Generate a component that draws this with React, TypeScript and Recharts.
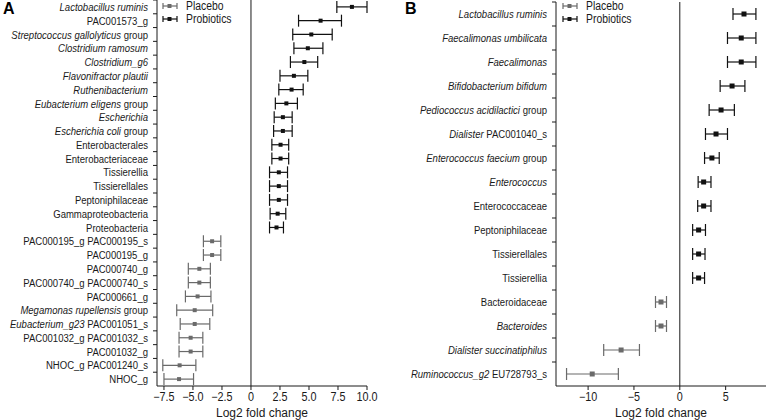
import React from "react";
import {
  ScatterChart,
  Scatter,
  XAxis,
  YAxis,
  ErrorBar,
  ReferenceLine,
  Legend,
} from "recharts";

const FONT = '"Liberation Sans", Arial, sans-serif';
const INK = "#1a1a1a";
const PROBIO = "#111111";
const PLACEBO = "#6a6a6a";
const SQUEEZE = 0.83; // narrow look of the original lettering

// Panel A
const namesA = [
  "Lactobacillus ruminis",
  "PAC001573_g",
  "Streptococcus gallolyticus group",
  "Clostridium ramosum",
  "Clostridium_g6",
  "Flavonifractor plautii",
  "Ruthenibacterium",
  "Eubacterium eligens group",
  "Escherichia",
  "Escherichia coli group",
  "Enterobacterales",
  "Enterobacteriaceae",
  "Tissierellia",
  "Tissierellales",
  "Peptoniphilaceae",
  "Gammaproteobacteria",
  "Proteobacteria",
  "PAC000195_g PAC000195_s",
  "PAC000195_g",
  "PAC000740_g",
  "PAC000740_g PAC000740_s",
  "PAC000661_g",
  "Megamonas rupellensis group",
  "Eubacterium_g23 PAC001051_s",
  "PAC001032_g PAC001032_s",
  "PAC001032_g",
  "NHOC_g PAC001240_s",
  "NHOC_g",
];
// italic part at the start of each label
const italicA = [
  "Lactobacillus ruminis",
  "",
  "Streptococcus gallolyticus",
  "Clostridium ramosum",
  "Clostridium_g6",
  "Flavonifractor plautii",
  "Ruthenibacterium",
  "Eubacterium eligens",
  "Escherichia",
  "Escherichia coli",
  "", "", "", "", "", "", "", "", "", "", "", "",
  "Megamonas rupellensis",
  "Eubacterium_g23",
  "", "", "", "",
];
const groupA = [
  "pro", "pro", "pro", "pro", "pro", "pro", "pro", "pro", "pro", "pro",
  "pro", "pro", "pro", "pro", "pro", "pro", "pro",
  "pla", "pla", "pla", "pla", "pla", "pla", "pla", "pla", "pla", "pla", "pla",
];
const meanA = [8.7, 6.0, 5.2, 4.9, 4.6, 3.7, 3.5, 3.05, 2.75, 2.75, 2.55, 2.55, 2.4, 2.4, 2.4, 2.3, 2.2,
  -3.35, -3.35, -4.45, -4.45, -4.6, -4.85, -4.85, -5.2, -5.2, -6.15, -6.2];
const lowA = [7.4, 4.1, 3.6, 3.7, 3.4, 2.5, 2.4, 2.1, 2.0, 1.95, 1.8, 1.8, 1.6, 1.6, 1.6, 1.65, 1.6,
  -4.1, -4.1, -5.4, -5.4, -5.65, -6.4, -6.1, -6.2, -6.2, -7.6, -7.5];
const highA = [10.0, 7.8, 7.0, 6.2, 5.75, 4.9, 4.5, 4.0, 3.55, 3.55, 3.25, 3.25, 3.15, 3.15, 3.15, 3.0, 2.8,
  -2.6, -2.6, -3.5, -3.5, -3.45, -3.3, -3.55, -4.15, -4.15, -4.75, -4.95];
const ticksA = [-7.5, -5, -2.5, 0, 2.5, 5, 7.5, 10];

// Panel B
const namesB = [
  "Lactobacillus ruminis",
  "Faecalimonas umbilicata",
  "Faecalimonas",
  "Bifidobacterium bifidum",
  "Pediococcus acidilactici group",
  "Dialister PAC001040_s",
  "Enterococcus faecium group",
  "Enterococcus",
  "Enterococcaceae",
  "Peptoniphilaceae",
  "Tissierellales",
  "Tissierellia",
  "Bacteroidaceae",
  "Bacteroides",
  "Dialister succinatiphilus",
  "Ruminococcus_g2 EU728793_s",
];
const italicB = [
  "Lactobacillus ruminis",
  "Faecalimonas umbilicata",
  "Faecalimonas",
  "Bifidobacterium bifidum",
  "Pediococcus acidilactici",
  "Dialister",
  "Enterococcus faecium",
  "Enterococcus",
  "", "", "", "", "",
  "Bacteroides",
  "Dialister succinatiphilus",
  "Ruminococcus_g2",
];
const groupB = [
  "pro", "pro", "pro", "pro", "pro", "pro", "pro", "pro", "pro", "pro", "pro", "pro",
  "pla", "pla", "pla", "pla",
];
const meanB = [7.0, 6.7, 6.7, 5.7, 4.5, 3.95, 3.5, 2.6, 2.6, 2.05, 2.05, 2.05, -2.05, -2.05, -6.4, -9.55];
const lowB = [5.8, 5.2, 5.2, 4.4, 3.2, 2.8, 2.7, 2.0, 1.95, 1.4, 1.4, 1.4, -2.65, -2.65, -8.3, -12.35];
const highB = [8.3, 8.3, 8.3, 7.1, 5.95, 5.2, 4.3, 3.4, 3.4, 2.8, 2.75, 2.7, -1.45, -1.45, -4.4, -6.7];
const ticksB = [-10, -5, 0, 5];

const legendItems = [
  { label: "Placebo", color: PLACEBO },
  { label: "Probiotics", color: PROBIO },
];

function buildRows(names: string[], groups: string[], mean: number[], low: number[], high: number[]) {
  return names.map((name, i) => {
    const err: [number, number] = [mean[i] - low[i], high[i] - mean[i]];
    return {
      name,
      value: mean[i],
      group: groups[i],
      errPro: groups[i] === "pro" ? err : undefined,
      errPla: groups[i] === "pla" ? err : undefined,
    };
  });
}

const minus = (v: number, digits: number) =>
  v === 0 ? "0" : v.toFixed(digits).replace("-", "\u2212");

function makeYTick(names: string[], italics: string[], pitch: number) {
  return (props: any) => {
    const { x, y, payload } = props;
    const name = String(payload.value);
    const idx = names.indexOf(name);
    const it = idx >= 0 ? italics[idx] : "";
    const rest = name.slice(it.length);
    const axisX = x + 9;
    const top = y - pitch / 2;
    return (
      <g>
        <line x1={axisX - 4} x2={axisX} y1={top} y2={top} stroke={INK} strokeWidth={1} />
        <text
          transform={`translate(${x},${y}) scale(${SQUEEZE},1)`}
          dy="0.36em"
          textAnchor="end"
          fontSize={11.5}
          fontFamily={FONT}
          fill={INK}
        >
          {it && <tspan fontStyle="italic">{it}</tspan>}
          {rest && <tspan style={{ whiteSpace: "pre" }}>{rest}</tspan>}
        </text>
      </g>
    );
  };
}

function makeXTick(digits: number) {
  return (props: any) => {
    const { x, y, payload } = props;
    return (
      <text
        transform={`translate(${x},${y}) scale(0.9,1)`}
        dy="0.75em"
        textAnchor="middle"
        fontSize={12}
        fontFamily={FONT}
        fill={INK}
      >
        {minus(Number(payload.value), digits)}
      </text>
    );
  };
}

function LegendBox() {
  return (
    <div style={{ fontFamily: FONT, fontSize: 12.5, color: INK, lineHeight: "12.5px" }}>
      {legendItems.map((it) => (
        <div key={it.label} style={{ display: "flex", alignItems: "center", whiteSpace: "nowrap" }}>
          <svg width={18} height={10} style={{ marginRight: 6 }}>
            <line x1={1} x2={15} y1={5} y2={5} stroke={it.color} strokeWidth={1.2} />
            <line x1={1} x2={1} y1={2} y2={8} stroke={it.color} strokeWidth={1.2} />
            <line x1={15} x2={15} y1={2} y2={8} stroke={it.color} strokeWidth={1.2} />
            <rect x={5.5} y={3} width={4} height={4} fill={it.color} />
          </svg>
          <span style={{ display: "inline-block", transform: `scaleX(${SQUEEZE})`, transformOrigin: "left center" }}>
            {it.label}
          </span>
        </div>
      ))}
    </div>
  );
}

const square = (size: number) => (props: any) => {
  const { cx, cy, payload } = props;
  if (cx == null || cy == null) return <g />;
  const color = payload && payload.group === "pla" ? PLACEBO : PROBIO;
  return <rect x={cx - size / 2} y={cy - size / 2} width={size} height={size} fill={color} />;
};

interface PanelProps {
  names: string[];
  italics: string[];
  groups: string[];
  mean: number[];
  low: number[];
  high: number[];
  ticks: number[];
  domain: [number, number];
  width: number;
  height: number;
  axisWidth: number;
  margin: { top: number; right: number; bottom: number; left: number };
  legendLeft: number;
  markSize: number;
  digits: number;
}

function ForestPanel(p: PanelProps) {
  const rows = buildRows(p.names, p.groups, p.mean, p.low, p.high);
  const plotH = p.height - p.margin.top - p.margin.bottom - 34;
  const pitch = plotH / p.names.length;
  return (
    <ScatterChart width={p.width} height={p.height} margin={p.margin}>
      <XAxis
        type="number"
        dataKey="value"
        domain={p.domain}
        allowDataOverflow
        ticks={p.ticks}
        interval={0}
        height={34}
        stroke={INK}
        tickSize={4}
        tickMargin={2}
        tick={makeXTick(p.digits)}
        label={{ value: "Log2 fold change", position: "insideBottom", offset: 3, fontSize: 12, fontFamily: FONT, fill: INK }}
      />
      <YAxis
        type="category"
        dataKey="name"
        reversed
        width={p.axisWidth}
        interval={0}
        stroke={INK}
        tickLine={false}
        tickSize={4}
        tickMargin={5}
        tick={makeYTick(p.names, p.italics, pitch)}
      />
      <ReferenceLine x={0} stroke={INK} strokeWidth={1} />
      <Legend
        layout="vertical"
        align="center"
        verticalAlign="middle"
        wrapperStyle={{ left: p.legendLeft, top: 0, width: "auto" }}
        content={() => <LegendBox />}
      />
      <Scatter data={rows} dataKey="value" shape={square(p.markSize)} isAnimationActive={false}>
        <ErrorBar dataKey="errPro" direction="x" width={6} stroke={PROBIO} strokeWidth={1.2} isAnimationActive={false} />
        <ErrorBar dataKey="errPla" direction="x" width={6} stroke={PLACEBO} strokeWidth={1.2} isAnimationActive={false} />
      </Scatter>
    </ScatterChart>
  );
}

const letterStyle: React.CSSProperties = {
  position: "absolute",
  top: 1,
  fontFamily: '"Liberation Sans", Arial, sans-serif',
  fontWeight: 700,
  fontSize: 16,
  lineHeight: "16px",
  color: "#000",
};

export default function App() {
  return (
    <div style={{ position: "absolute", left: 0, top: 0, width: 768, height: 420, background: "#fff" }}>
      <div style={{ position: "absolute", left: 0, top: 0 }}>
        <ForestPanel
          names={namesA}
          italics={italicA}
          groups={groupA}
          mean={meanA}
          low={lowA}
          high={highA}
          ticks={ticksA}
          domain={[-8.1, 10]}
          width={380}
          height={420}
          axisWidth={157}
          margin={{ top: 0, right: 13, bottom: 0, left: 0 }}
          legendLeft={162}
          markSize={4}
          digits={1}
        />
      </div>
      <div style={{ position: "absolute", left: 380, top: 0 }}>
        <ForestPanel
          names={namesB}
          italics={italicB}
          groups={groupB}
          mean={meanB}
          low={lowB}
          high={highB}
          ticks={ticksB}
          domain={[-13.5, 9.4]}
          width={388}
          height={420}
          axisWidth={176}
          margin={{ top: 2, right: 2, bottom: 0, left: 0 }}
          legendLeft={182}
          markSize={5}
          digits={0}
        />
      </div>
      <div style={{ ...letterStyle, left: 3 }}>A</div>
      <div style={{ ...letterStyle, left: 405 }}>B</div>
    </div>
  );
}
